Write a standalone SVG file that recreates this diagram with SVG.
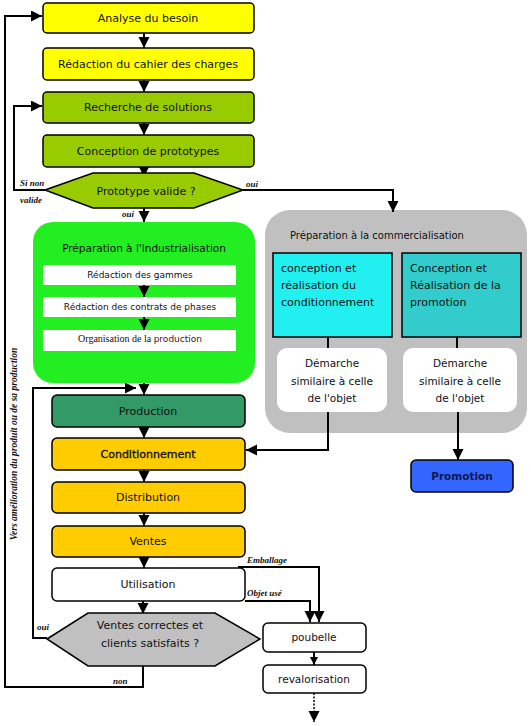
<svg xmlns="http://www.w3.org/2000/svg" width="531" height="726" viewBox="0 0 531 726">
<defs>
<style>
.box{stroke:#000;stroke-width:1.5}
.t{font-family:"DejaVu Sans",Verdana,sans-serif;font-size:11px;fill:#111;text-anchor:middle}
.ts{font-size:9px}
.tl{text-anchor:start}
.lab{font-family:"Liberation Serif","Times New Roman",serif;font-style:italic;font-weight:bold;font-size:9px;fill:#111}
.c{fill:none;stroke:#000;stroke-width:2}
.ca{marker-end:url(#ah)}
</style>
<marker id="ah" markerUnits="userSpaceOnUse" markerWidth="12" markerHeight="12" refX="11" refY="5.5" orient="auto"><path d="M0,0 L11,5.5 L0,11 z" fill="#000"/></marker>
<marker id="ahs" markerUnits="userSpaceOnUse" markerWidth="9" markerHeight="9" refX="8" refY="4" orient="auto"><path d="M0,0 L8,4 L0,8 z" fill="#000"/></marker>
</defs>
<rect width="531" height="726" fill="#fff"/>

<g id="prep-commercialisation">
<rect x="265" y="210" width="262" height="223" rx="25" fill="#c0c0c0"/>
<text class="t tl" x="290" y="239" style="font-size:10px">Préparation à la commercialisation</text>
</g>
<g id="prep-industrialisation">
<rect x="33" y="222" width="222" height="161" rx="20" fill="#22ee22"/>
<text class="t" x="144" y="252" style="font-size:10.5px">Préparation à l'Industrialisation</text>
</g>

<g id="connectors">
<line class="c ca" x1="144" y1="33" x2="144" y2="48"/>
<line class="c ca" x1="144" y1="80" x2="144" y2="92"/>
<line class="c ca" x1="144" y1="123" x2="144" y2="135"/>
<line class="c ca" x1="144" y1="167" x2="144" y2="177"/>
<line class="c ca" x1="144" y1="208" x2="144" y2="222"/>
<polyline class="c ca" points="45,190 14,190 14,106 42,106"/>
<polyline class="c ca" points="243,190 393,190 393,212"/>
<line class="c ca" x1="144" y1="285" x2="144" y2="297"/>
<line class="c ca" x1="144" y1="317" x2="144" y2="330"/>
<line class="c ca" x1="144" y1="383" x2="144" y2="395"/>
<line class="c" x1="328" y1="337" x2="328" y2="348"/>
<line class="c" x1="457" y1="337" x2="457" y2="348"/>
<polyline class="c ca" points="328,412 328,450 246,450"/>
<line class="c ca" x1="458" y1="412" x2="458" y2="460"/>
<line class="c ca" x1="144" y1="427" x2="144" y2="438"/>
<line class="c ca" x1="144" y1="470" x2="144" y2="482"/>
<line class="c ca" x1="144" y1="513" x2="144" y2="526"/>
<line class="c ca" x1="144" y1="557" x2="144" y2="568"/>
<line class="c ca" x1="143" y1="601" x2="143" y2="614"/>
<polyline class="c ca" points="238,567 319,567 319,622"/>
<polyline class="c ca" points="245,601 310,601 310,622"/>
<line class="c" x1="314" y1="652" x2="314" y2="665" style="marker-end:url(#ahs)"/>
<line class="c ca" x1="314" y1="693" x2="314" y2="722" style="stroke-dasharray:2,1.5;stroke-width:1.5"/>
<polyline class="c ca" points="47,638 33,638 33,388 136,388"/>
<polyline class="c ca" points="143,666 143,687 5,687 5,16 42,16"/>
</g>

<g id="analyse">
<rect class="box" x="43" y="3" width="211" height="30" rx="4" fill="#ffff00"/>
<text class="t" x="148" y="22">Analyse du besoin</text>
</g>
<g id="redaction">
<rect class="box" x="43" y="48" width="211" height="32" rx="4" fill="#ffff00"/>
<text class="t" x="148" y="68">Rédaction du cahier des charges</text>
</g>
<g id="recherche">
<rect class="box" x="43" y="92" width="211" height="31" rx="4" fill="#99cc00"/>
<text class="t" x="148" y="111">Recherche de solutions</text>
</g>
<g id="conception">
<rect class="box" x="43" y="135" width="211" height="32" rx="4" fill="#99cc00"/>
<text class="t" x="148" y="155">Conception de prototypes</text>
</g>
<g id="decision-prototype">
<polygon class="box" points="45,190 93,173 194,173 243,190 194,208 93,208" fill="#99cc00"/>
<text class="t" x="146" y="195">Prototype valide ?</text>
<text class="lab" x="20" y="186">Si non</text>
<text class="lab" x="20" y="203">valide</text>
<text class="lab" x="246" y="187">oui</text>
<text class="lab" x="122" y="217">oui</text>
</g>

<g id="gammes">
<rect x="43" y="265" width="193" height="20" fill="#fff"/>
<text class="t ts" x="140" y="278">Rédaction des gammes</text>
</g>
<g id="contrats">
<rect x="43" y="297" width="193" height="20" fill="#fff"/>
<text class="t ts" x="140" y="310">Rédaction des contrats de phases</text>
</g>
<g id="organisation">
<rect x="43" y="330" width="193" height="21" fill="#fff"/>
<text class="t ts" x="140" y="342"><tspan style="font-family:'Liberation Serif',serif;font-size:10px">Organisation de la </tspan><tspan fill="#4a1020">production</tspan></text>
</g>

<g id="conditionnement-design">
<rect class="box" x="273" y="253" width="119" height="84" fill="#22f0f0"/>
<text class="t tl" x="281" y="272">conception et</text>
<text class="t tl" x="281" y="289">réalisation du</text>
<text class="t tl" x="281" y="306">conditionnement</text>
</g>
<g id="promotion-design">
<rect class="box" x="402" y="253" width="119" height="84" fill="#33cccc"/>
<text class="t tl" x="410" y="272">Conception et</text>
<text class="t tl" x="410" y="289">Réalisation de la</text>
<text class="t tl" x="410" y="306">promotion</text>
</g>
<g id="demarche-1">
<rect x="277" y="348" width="110" height="64" rx="10" fill="#fff"/>
<text class="t" x="332" y="367" style="font-size:10.5px">Démarche</text>
<text class="t" x="332" y="385" style="font-size:10.5px">similaire à celle</text>
<text class="t" x="332" y="402" style="font-size:10.5px">de l'objet</text>
</g>
<g id="demarche-2">
<rect x="403" y="348" width="114" height="64" rx="10" fill="#fff"/>
<text class="t" x="460" y="367" style="font-size:10.5px">Démarche</text>
<text class="t" x="460" y="385" style="font-size:10.5px">similaire à celle</text>
<text class="t" x="460" y="402" style="font-size:10.5px">de l'objet</text>
</g>
<g id="promotion">
<rect class="box" x="411" y="460" width="102" height="32" rx="5" fill="#3366ff"/>
<text class="t" x="462" y="480" style="font-weight:bold;font-size:10.5px;fill:#101850">Promotion</text>
</g>

<g id="production">
<rect class="box" x="52" y="395" width="193" height="32" rx="5" fill="#339966"/>
<text class="t" x="148" y="415">Production</text>
</g>
<g id="conditionnement">
<rect class="box" x="52" y="438" width="193" height="32" rx="5" fill="#ffcc00"/>
<text class="t" x="148" y="458" style="stroke:#111;stroke-width:0.35">Conditionnement</text>
</g>
<g id="distribution">
<rect class="box" x="52" y="482" width="193" height="31" rx="5" fill="#ffcc00"/>
<text class="t" x="148" y="501">Distribution</text>
</g>
<g id="ventes">
<rect class="box" x="52" y="526" width="193" height="31" rx="5" fill="#ffcc00"/>
<text class="t" x="148" y="545">Ventes</text>
</g>
<g id="utilisation">
<rect class="box" x="52" y="568" width="193" height="33" rx="5" fill="#fff"/>
<text class="t" x="148" y="588">Utilisation</text>
<text class="lab" x="247" y="563">Emballage</text>
<text class="lab" x="247" y="596">Objet usé</text>
</g>
<g id="decision-ventes">
<polygon class="box" points="47,639 88,613 215,613 260,639 215,666 88,666" fill="#c0c0c0"/>
<text class="t" x="150" y="629">Ventes correctes et</text>
<text class="t" x="150" y="647">clients satisfaits ?</text>
<text class="lab" x="37" y="630">oui</text>
<text class="lab" x="113" y="684">non</text>
</g>
<g id="poubelle">
<rect class="box" x="263" y="623" width="103" height="29" rx="5" fill="#fff"/>
<text class="t" x="314" y="641" style="font-size:10.5px">poubelle</text>
</g>
<g id="revalorisation">
<rect class="box" x="263" y="665" width="103" height="28" rx="5" fill="#fff"/>
<text class="t" x="314" y="683" style="font-size:10.5px">revalorisation</text>
</g>
<g id="label-amelioration">
<text class="lab" transform="translate(17,444) rotate(-90)" text-anchor="middle" style="font-size:9.5px">Vers amélioration du produit ou de sa production</text>
</g>
</svg>
